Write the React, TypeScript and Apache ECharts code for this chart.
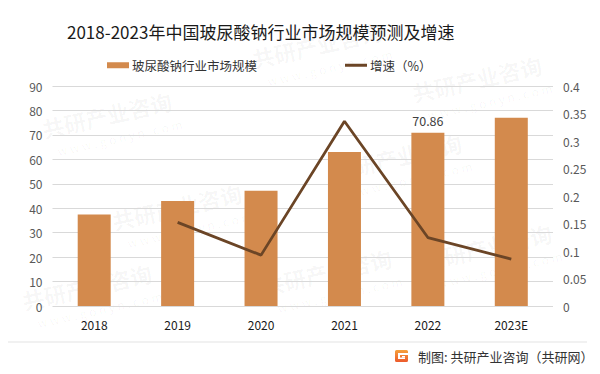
import React, { useEffect, useRef } from "react";
import * as echarts from "echarts";

const categories = ["2018", "2019", "2020", "2021", "2022", "2023E"];
const marketSize = [37.4, 43.0, 47.1, 63.0, 70.86, 77.0];
const growth = [null, 0.152, 0.0925, 0.336, 0.1245, 0.0853];
const leftTicks = { min: 0, max: 90, interval: 10 };
const rightTicks = { min: 0, max: 0.4, interval: 0.05 };
const labelledIndex = 4;

const FONT = "'Noto Sans CJK SC', 'Noto Sans', sans-serif";

export default function App() {
  const ref = useRef<HTMLDivElement>(null);
  useEffect(() => {
    if (!ref.current) return;
    const chart = echarts.init(ref.current, undefined, { renderer: "svg" });

    const watermarks: any[] = [];
    const wmPos = [
      [40, 118], [250, 48], [410, 82], [110, 210], [330, 160],
      [20, 290], [260, 275], [420, 250],
    ];
    wmPos.forEach(([x, y]) => {
      watermarks.push({
        type: "group",
        x, y,
        rotation: 0.22,
        silent: true,
        z: 0,
        children: [
          { type: "text", x: 0, y: 0, style: { text: "共研产业咨询", fontSize: 22, fontWeight: "bold", fontFamily: FONT, fill: "rgba(0,0,0,0.04)" } },
          { type: "text", x: 10, y: 30, style: { text: "w w w . g o n y n . c o m", fontSize: 12, fontFamily: FONT, fill: "rgba(0,0,0,0.04)" } },
        ],
      });
    });

    chart.setOption({
      animation: false,
      backgroundColor: "#ffffff",
      title: {
        text: "2018-2023年中国玻尿酸钠行业市场规模预测及增速",
        left: 62,
        top: 18,
        textStyle: { fontSize: 17, fontWeight: "normal", color: "#1a1a1a", fontFamily: FONT },
      },
      legend: [
        {
          data: [{ name: "玻尿酸钠行业市场规模", icon: "rect" }],
          left: 102,
          top: 54,
          itemWidth: 22,
          itemHeight: 6,
          itemGap: 4,
          textStyle: { fontSize: 12.5, color: "#333", fontFamily: FONT, padding: [0, 0, 0, -2] },
        },
        {
          data: [{ name: "增速（%）", icon: "path://M0,0 L22,0 L22,3 L0,3 Z" }],
          left: 340,
          top: 54,
          itemWidth: 22,
          itemHeight: 3,
          textStyle: { fontSize: 12.5, color: "#333", fontFamily: FONT, padding: [0, 0, 0, -2] },
        },
      ],
      grid: { left: 52.5, right: 47, top: 86, bottom: 68, containLabel: false },
      xAxis: {
        type: "category",
        data: categories,
        axisLine: { show: false },
        axisTick: { show: false },
        axisLabel: { color: "#1a1a1a", fontSize: 12, fontFamily: FONT, margin: 12 },
      },
      yAxis: [
        {
          type: "value",
          ...leftTicks,
          axisLine: { show: false },
          axisTick: { show: false },
          axisLabel: { color: "#595959", fontSize: 12, fontFamily: FONT, margin: 10 },
          splitLine: { lineStyle: { color: "#d9d9d9", width: 1 } },
        },
        {
          type: "value",
          ...rightTicks,
          position: "right",
          axisLine: { show: false },
          axisTick: { show: false },
          axisLabel: { color: "#595959", fontSize: 12, fontFamily: FONT, margin: 10 },
          splitLine: { show: false },
        },
      ],
      series: [
        {
          name: "玻尿酸钠行业市场规模",
          type: "bar",
          data: marketSize.map((v, i) =>
            i === labelledIndex
              ? { value: v, label: { show: true, position: "top", distance: 6, color: "#404040", fontSize: 12.5, fontFamily: FONT } }
              : v
          ),
          barWidth: 33,
          itemStyle: { color: "#D38A4D" },
          z: 2,
        },
        {
          name: "增速（%）",
          type: "line",
          yAxisIndex: 1,
          data: growth,
          symbol: "none",
          lineStyle: { color: "#6B4526", width: 2.8 },
          itemStyle: { color: "#6B4526" },
          z: 3,
        },
      ],
      graphic: [
        ...watermarks,
        { type: "line", shape: { x1: 5, y1: 342, x2: 587, y2: 342 }, style: { stroke: "#e3e3e3", lineWidth: 1 }, z: 5 },
        {
          type: "group",
          x: 395,
          y: 350,
          z: 5,
          children: [
            {
              type: "rect",
              shape: { x: 0, y: 0, width: 13, height: 12, r: 1.5 },
              style: {
                fill: new echarts.graphic.LinearGradient(0, 0, 0, 1, [
                  { offset: 0, color: "#F6A03B" },
                  { offset: 1, color: "#EC5A2C" },
                ]),
              },
            },
            { type: "rect", shape: { x: 3, y: 3, width: 10, height: 2 }, style: { fill: "#fff" } },
            { type: "rect", shape: { x: 3, y: 3, width: 2, height: 6 }, style: { fill: "#fff" } },
            { type: "rect", shape: { x: 3, y: 7.5, width: 7, height: 1.5 }, style: { fill: "#fff" } },
            { type: "rect", shape: { x: 7, y: 6, width: 3, height: 1.5 }, style: { fill: "#fff" } },
          ],
        },
        {
          type: "text",
          x: 418,
          y: 356,
          z: 5,
          style: {
            text: "制图: 共研产业咨询（共研网）",
            fontSize: 13,
            fontFamily: FONT,
            fill: "#333",
            verticalAlign: "middle",
          },
        },
      ],
    });
    return () => chart.dispose();
  }, []);
  return <div ref={ref} style={{ width: 600, height: 374, margin: -8 }} />;
}
